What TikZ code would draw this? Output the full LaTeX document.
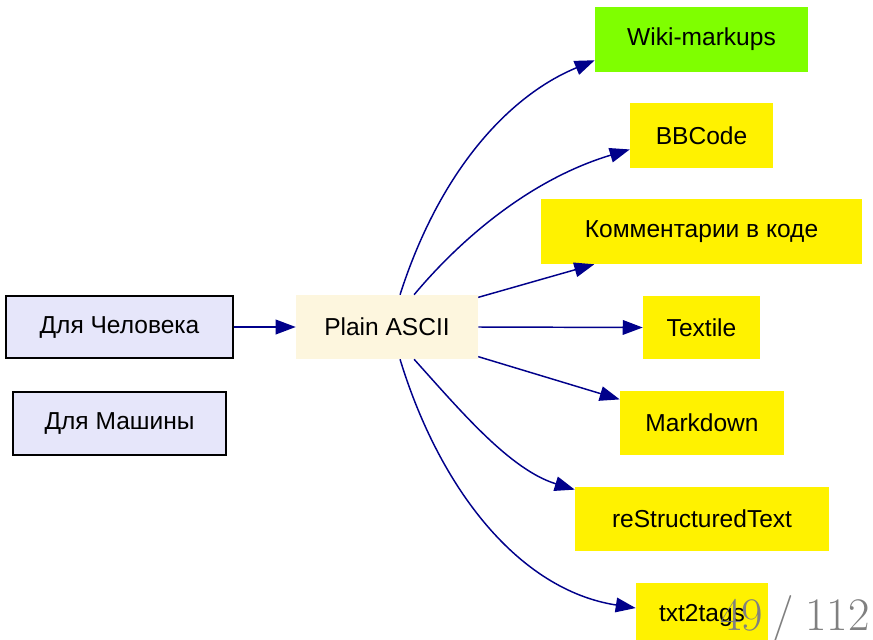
\documentclass[tikz,border=0pt]{standalone}
\usepackage{fontspec}
\newfontfamily\arialf{Liberation Sans}
\usetikzlibrary{arrows.meta}
\definecolor{edgeblue}{RGB}{0,0,139}
\definecolor{lav}{RGB}{230,230,250}
\definecolor{asciifill}{RGB}{253,246,222}
\definecolor{wikigreen}{RGB}{127,255,0}
\definecolor{pagegray}{RGB}{128,128,128}
\tikzset{
  base/.style={inner sep=0pt, font=\arialf\fontsize{18.4}{22}\selectfont, text=black},
  leftbox/.style={base, draw=black, line width=1.1pt, fill=lav},
  markup/.style={base, fill=yellow},
  conn/.style={draw=edgeblue, line width=1.1pt, -{Triangle[length=15pt,width=11pt]}, edgeblue}
}
\begin{document}
\begin{tikzpicture}[x=0.75pt,y=-0.75pt]
\clip (0,0) rectangle (873,639);
\fill[white] (0,0) rectangle (873,639);
\node[leftbox, minimum width=170.25pt, minimum height=46.5pt] (hum) at (119.5,327) {Для Человека};
\node[leftbox, minimum width=159.75pt, minimum height=47.25pt] (mach) at (119.5,423.5) {Для Машины};
\node[base, fill=asciifill, minimum width=136.5pt, minimum height=48pt] (ascii) at (387,327) {Plain ASCII};
\node[base, fill=wikigreen, minimum width=159.75pt, minimum height=48.75pt] (wiki) at (701.5,39.5) {Wiki-markups};
\node[markup, minimum width=107.25pt, minimum height=48.75pt] (bb) at (701.5,135.5) {BBCode};
\node[markup, minimum width=240.75pt, minimum height=48.75pt] (comm) at (701.5,231.5) {Комментарии в коде};
\node[markup, minimum width=87.75pt, minimum height=47.25pt] (textile) at (701.5,327.5) {Textile};
\node[markup, minimum width=123pt, minimum height=48pt] (md) at (702,423) {Markdown};
\node[markup, minimum width=190.5pt, minimum height=48pt] (rst) at (702,519) {reStructuredText};
\node[markup, minimum width=99pt, minimum height=48pt] (txt) at (702,615) {txt2tags};

\draw[conn] (hum.east) -- (ascii.west);
\draw[conn] (ascii.68) .. controls +(40,-125) and +(-85,35) .. (wiki.191);
\draw[conn] (ascii.50) .. controls +(46,-55) and +(-100,30) .. (bb.191);
\draw[conn] (ascii.18) -- (comm.197);
\draw[conn] (ascii.east) -- (textile.west);
\draw[conn] (ascii.-18) -- (md.164);
\draw[conn] (ascii.-50) .. controls +(46,51) and +(-65,-20) .. (rst.167);
\draw[conn] (ascii.-68) .. controls +(40,131) and +(-116,-18) .. (txt.174);

\node[anchor=base east, inner sep=0pt, text=pagegray, font=\fontsize{35}{40}\selectfont] (page) at (870,630) {49\kern0.2em/\kern0.25em112};
\end{tikzpicture}
\end{document}
